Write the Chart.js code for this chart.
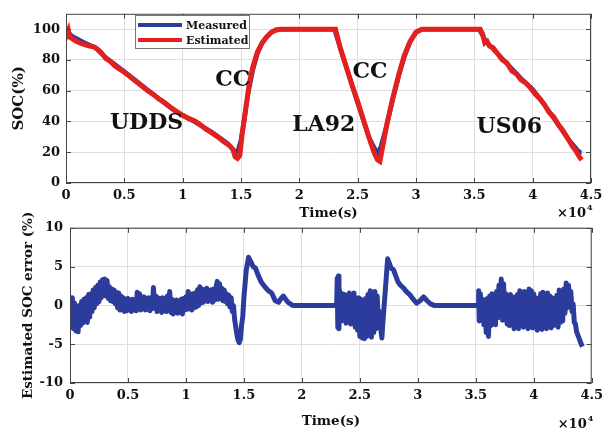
<!DOCTYPE html>
<html>
<head>
<meta charset="utf-8">
<script src="https://cdn.jsdelivr.net/npm/chart.js@4.4.1/dist/chart.umd.min.js"></script>
<style>
  html, body { margin: 0; padding: 0; background: #fff; }
  #wrap { position: relative; width: 608px; height: 432px; overflow: hidden; }
  .pane { position: absolute; left: 0; }
</style>
</head>
<body>
<div id="wrap">
  <canvas id="socChart" class="pane" style="top:0" width="608" height="221"></canvas>
  <canvas id="errChart" class="pane" style="top:213px" width="608" height="219"></canvas>
</div>
<script>
// time is in units of 1e4 s (axis shows x10^4)
const timeTicks = [0, 0.5, 1, 1.5, 2, 2.5, 3, 3.5, 4, 4.5];
const socTicks = [0, 20, 40, 60, 80, 100];
const errTicks = [-10, -5, 0, 5, 10];

// SOC (%) - measured
const socMeasured = [
  [0,100],[0.05,95.5],[0.15,91.5],[0.25,88],[0.35,81],[0.5,72.5],[0.65,63.5],[0.8,54.5],
  [0.95,46],[1.1,40],[1.25,33],[1.38,26],[1.44,21],[1.47,20],[1.50,28],[1.53,42],[1.56,58],
  [1.60,73],[1.64,84],[1.68,91],[1.72,95],[1.76,98],[1.80,99.5],[1.85,100],[2.30,100],
  [2.40,76],[2.50,52],[2.60,29],[2.67,19],[2.70,24],[2.75,38],[2.80,54],[2.85,69],[2.90,82],
  [2.95,92],[3.00,98],[3.05,100],[3.54,100],[3.60,92],[3.70,84],[3.80,76],[3.90,68],
  [4.00,61],[4.10,51],[4.20,40],[4.30,29],[4.40,20],[4.42,20]
];

// SOC (%) - estimated
const socEstimated = [
  [0,100],[0.01,97],[0.02,99],[0.03,95],[0.05,94],[0.08,92.5],[0.12,91],[0.16,90],[0.2,89],
  [0.24,88.5],[0.27,87],[0.3,85],[0.34,81],[0.38,79],[0.42,76],[0.46,74],[0.5,72],[0.55,69],
  [0.6,66],[0.65,63],[0.7,60],[0.75,57.5],[0.8,54.5],[0.85,52],[0.9,49],[0.95,46.5],[1.0,44],
  [1.05,42],[1.1,40.5],[1.15,38],[1.2,35],[1.25,32.5],[1.3,30],[1.35,27],[1.4,24.5],[1.43,22],
  [1.45,17],[1.47,16],[1.49,18],[1.51,32],[1.54,48],[1.57,64],[1.60,75],[1.64,85],[1.68,91],
  [1.72,95],[1.76,98],[1.80,99.5],[1.84,100],[2.31,100],[2.35,88],[2.40,76],[2.45,64],[2.50,53],
  [2.55,41],[2.60,29],[2.64,20],[2.67,15],[2.69,14],[2.71,22],[2.75,38],[2.80,55],[2.85,70],
  [2.90,83],[2.95,92],[3.00,98],[3.05,100],[3.55,100],[3.57,97],[3.59,91],[3.61,92],[3.63,89],
  [3.66,88],[3.70,84],[3.74,80],[3.78,78],[3.82,73],[3.86,71],[3.90,67],[3.94,65],[3.98,62],
  [4.02,58],[4.06,55],[4.10,51],[4.14,46],[4.18,43],[4.22,38],[4.26,34],[4.30,29],[4.34,24],
  [4.37,21],[4.40,17],[4.42,15]
];

// estimation error (%) - UDDS part, first charge
const errUdds = [
  [0.00,0.8],[0.01,-2.8],[0.02,1.0],[0.03,-3.0],[0.04,0.3],[0.05,-3.3],[0.06,-0.3],[0.07,-3.4],
  [0.08,0.0],[0.09,-2.6],[0.10,0.5],[0.11,-2.3],[0.12,0.8],[0.13,-2.0],[0.14,1.0],[0.15,-2.2],
  [0.16,1.4],[0.17,-1.5],[0.18,1.5],[0.19,-0.8],[0.20,2.0],[0.21,-0.3],[0.22,2.3],[0.23,0.2],
  [0.24,2.6],[0.25,0.5],[0.26,3.0],[0.27,1.0],[0.28,3.3],[0.29,1.3],[0.30,3.4],[0.31,1.2],
  [0.32,3.2],[0.33,0.9],[0.34,2.4],[0.35,0.6],[0.36,2.1],[0.37,0.5],[0.38,2.0],[0.39,0.2],
  [0.40,1.7],[0.41,-0.3],[0.42,1.6],[0.43,-0.6],[0.44,1.2],[0.45,-0.6],[0.46,1.0],[0.47,-0.8],
  [0.48,0.8],[0.49,-0.7],[0.50,0.9],[0.51,-0.6],[0.52,0.7],[0.53,-0.8],[0.54,0.8],[0.55,-0.5],
  [0.56,0.6],[0.57,-0.7],[0.58,1.7],[0.59,-0.2],[0.60,1.5],[0.61,-0.6],[0.62,1.0],[0.63,-0.4],
  [0.64,1.1],[0.65,-0.6],[0.66,0.9],[0.67,-0.5],[0.68,1.0],[0.69,-0.7],[0.70,0.8],[0.71,-0.4],
  [0.72,2.3],[0.73,-0.2],[0.74,1.2],[0.75,-0.8],[0.76,1.0],[0.77,-0.6],[0.78,0.9],[0.79,-0.9],
  [0.80,1.0],[0.81,-0.7],[0.82,0.8],[0.83,-0.8],[0.84,1.2],[0.85,-0.5],[0.86,1.8],[0.87,-0.9],
  [0.88,0.8],[0.89,-1.1],[0.90,0.6],[0.91,-0.9],[0.92,0.7],[0.93,-1.0],[0.94,0.5],[0.95,-0.8],
  [0.96,0.8],[0.97,-1.1],[0.98,0.9],[0.99,-0.6],[1.00,1.1],[1.01,-0.5],[1.02,1.8],[1.03,-0.4],
  [1.04,1.3],[1.05,-0.6],[1.06,1.5],[1.07,-0.3],[1.08,1.6],[1.09,-0.2],[1.10,2.0],[1.11,0.0],
  [1.12,2.4],[1.13,0.3],[1.14,2.1],[1.15,0.4],[1.16,2.0],[1.17,0.6],[1.18,2.2],[1.19,0.5],
  [1.20,1.9],[1.21,0.6],[1.22,2.0],[1.23,0.4],[1.24,2.1],[1.25,0.7],[1.26,2.3],[1.27,3.1],
  [1.28,0.8],[1.29,2.8],[1.30,0.9],[1.31,2.2],[1.32,0.6],[1.33,2.0],[1.34,0.5],[1.35,1.5],
  [1.36,0.2],[1.37,1.3],[1.38,-0.2],[1.39,1.0],[1.40,-0.8],[1.41,0.0],[1.42,-1.8],[1.43,-2.8],
  [1.44,-3.8],[1.45,-4.5],[1.46,-4.8],[1.47,-4.3],[1.48,-2.5],[1.49,-1.5],[1.50,1.0],[1.52,4.5],
  [1.54,6.2],[1.56,5.6],[1.58,5.0],[1.60,4.8],[1.62,4.0],[1.65,3.0],[1.68,2.4],[1.71,1.9],
  [1.74,1.6],[1.77,0.6],[1.80,0.4],[1.82,0.9],[1.84,1.2],[1.86,0.8],[1.88,0.4],[1.92,0.0],
  [2.30,0.0]
];

// LA92 part and second charge
const errLa92 = [
  [2.305,3.5],[2.31,-2.8],[2.315,3.8],[2.32,-3.0],[2.325,2.0],[2.33,-1.0],[2.335,1.2],[2.34,-2.0],
  [2.35,1.5],[2.36,-1.5],[2.37,1.4],[2.38,-2.3],[2.39,0.8],[2.40,-1.8],[2.41,1.6],[2.42,-2.4],
  [2.43,0.5],[2.44,-2.0],[2.45,1.6],[2.46,-2.8],[2.47,0.2],[2.48,-3.2],[2.49,1.0],[2.50,-4.0],
  [2.51,0.8],[2.52,-4.2],[2.53,0.6],[2.54,-4.3],[2.55,0.9],[2.56,-4.0],[2.57,1.4],[2.58,-3.8],
  [2.59,1.9],[2.60,-4.1],[2.61,0.5],[2.62,-3.5],[2.63,1.8],[2.64,-3.0],[2.65,1.2],[2.66,-2.6],
  [2.67,-0.8],[2.68,-3.0],[2.69,-4.2],[2.70,-2.0],[2.71,0.0],[2.73,4.0],[2.74,6.0],[2.75,5.6],
  [2.77,4.8],[2.79,4.6],[2.81,3.8],[2.83,3.0],[2.85,2.6],[2.88,2.2],[2.90,1.8],[2.93,1.4],
  [2.96,0.8],[2.99,0.3],[3.02,0.6],[3.05,1.1],[3.08,0.6],[3.11,0.2],[3.14,0.0],[3.52,0.0]
];

// US06 part
const errUs06 = [
  [3.525,1.9],[3.53,-2.0],[3.54,1.5],[3.55,-1.8],[3.56,0.8],[3.57,-2.5],[3.58,0.5],[3.59,-3.5],
  [3.60,0.9],[3.61,-4.0],[3.62,1.2],[3.63,-2.6],[3.64,1.5],[3.65,-2.2],[3.66,1.0],[3.67,-2.5],
  [3.68,1.8],[3.69,-1.6],[3.70,2.6],[3.71,-1.2],[3.72,3.4],[3.73,-1.9],[3.74,2.8],[3.75,-1.5],
  [3.76,1.5],[3.77,-2.4],[3.78,1.2],[3.79,-2.6],[3.80,1.4],[3.81,-2.0],[3.82,0.9],[3.83,-3.0],
  [3.84,1.1],[3.85,-2.6],[3.86,1.4],[3.87,-3.0],[3.88,1.9],[3.89,-2.2],[3.90,1.6],[3.91,-2.8],
  [3.92,1.8],[3.93,-2.5],[3.94,1.2],[3.95,-3.0],[3.96,2.1],[3.97,-2.4],[3.98,1.9],[3.99,-2.9],
  [4.00,1.5],[4.01,-2.6],[4.02,1.0],[4.03,-3.2],[4.04,0.8],[4.05,-2.8],[4.06,1.5],[4.07,-3.1],
  [4.08,1.7],[4.09,-2.5],[4.10,1.4],[4.11,-3.0],[4.12,1.6],[4.13,-2.7],[4.14,1.2],[4.15,-2.9],
  [4.16,1.0],[4.17,-2.6],[4.18,0.8],[4.19,-2.4],[4.20,1.3],[4.21,-2.8],[4.22,2.0],[4.23,-2.2],
  [4.24,1.8],[4.25,-2.0],[4.26,2.1],[4.27,-1.0],[4.28,2.9],[4.29,-0.3],[4.30,2.6],[4.31,0.5],
  [4.32,1.8],[4.33,-0.8],[4.34,0.2],[4.35,-2.2],[4.36,-2.4],[4.37,-3.4],[4.38,-3.8],[4.39,-4.2],
  [4.40,-4.6],[4.41,-5.0],[4.42,-5.3]
];

// cycle labels on the SOC plot, placed in data units
const cycleNames = ['UDDS', 'CC', 'LA92', 'CC', 'US06'];
const cycleAt = [[0.69, 38.5], [1.43, 67], [2.21, 37.5], [2.605, 72], [3.80, 36]];

const FONT = "'DejaVu Serif', 'Liberation Serif', serif";
const BLUE = '#2c3c9c';
const RED = '#e3201e';

Chart.defaults.font.family = FONT;
Chart.defaults.font.weight = 'bold';
Chart.defaults.font.size = 13;
Chart.defaults.color = '#111';
Chart.defaults.animation = false;

const toXY = arr => arr.map(p => ({ x: p[0], y: p[1] }));

// MATLAB style box with inward ticks + the x10^4 multiplier
const boxPlugin = {
  id: 'matBox',
  afterDraw(chart, args, opts) {
    const { ctx, chartArea: a, scales } = chart;
    ctx.save();
    ctx.strokeStyle = '#444';
    ctx.lineWidth = 1;
    ctx.strokeRect(a.left + 0.5, a.top + 0.5, a.right - a.left - 1, a.bottom - a.top - 1);
    ctx.beginPath();
    scales.x.ticks.forEach(t => {
      const px = Math.round(scales.x.getPixelForValue(t.value)) + 0.5;
      ctx.moveTo(px, a.bottom); ctx.lineTo(px, a.bottom - 5);
      ctx.moveTo(px, a.top); ctx.lineTo(px, a.top + 5);
    });
    scales.y.ticks.forEach(t => {
      const py = Math.round(scales.y.getPixelForValue(t.value)) + 0.5;
      ctx.moveTo(a.left, py); ctx.lineTo(a.left + 5, py);
      ctx.moveTo(a.right, py); ctx.lineTo(a.right - 5, py);
    });
    ctx.stroke();
    // exponent label
    ctx.fillStyle = '#111';
    ctx.textBaseline = 'middle';
    ctx.textAlign = 'right';
    ctx.font = 'bold 13px ' + FONT;
    const ex = a.right - 5, ey = a.bottom + opts.expDy;
    ctx.fillText('\u00d710', ex, ey);
    ctx.textAlign = 'left';
    ctx.font = 'bold 8px ' + FONT;
    ctx.fillText('4', ex + 1, ey - 6);
    ctx.restore();
  }
};

// cycle names + legend for the SOC plot
const socDecor = {
  id: 'socDecor',
  afterDraw(chart) {
    const { ctx, scales } = chart;
    ctx.save();
    ctx.fillStyle = '#111';
    ctx.textAlign = 'center';
    ctx.textBaseline = 'middle';
    ctx.font = 'bold 22px ' + FONT;
    cycleNames.forEach((n, i) => {
      ctx.fillText(n, scales.x.getPixelForValue(cycleAt[i][0]), scales.y.getPixelForValue(cycleAt[i][1]));
    });
    // legend box
    const lx = 135, ly = 15, lw = 114, lh = 33;
    ctx.fillStyle = '#fff';
    ctx.fillRect(lx, ly, lw, lh);
    ctx.strokeStyle = '#777';
    ctx.lineWidth = 1;
    ctx.strokeRect(lx + 0.5, ly + 0.5, lw, lh);
    ctx.font = 'bold 11px ' + FONT;
    ctx.textAlign = 'left';
    chart.data.datasets.forEach((ds, i) => {
      const yy = ly + 10 + i * 15;
      ctx.strokeStyle = ds.borderColor;
      ctx.lineWidth = 4;
      ctx.beginPath();
      ctx.moveTo(lx + 3, yy); ctx.lineTo(lx + 47, yy);
      ctx.stroke();
      ctx.fillStyle = '#111';
      ctx.fillText(ds.label, lx + 51, yy + 1);
    });
    ctx.restore();
  }
};

function timeAxis(padBottom) {
  return {
    type: 'linear', min: 0, max: 4.5,
    afterBuildTicks: s => { s.ticks = timeTicks.map(v => ({ value: v })); },
    ticks: { padding: 5, maxRotation: 0, callback: v => String(v) },
    grid: { color: '#dedede', drawTicks: false },
    border: { display: false },
    title: { display: true, text: 'Time(s)', font: { size: 13.5, weight: 'bold' }, padding: { top: 0, bottom: padBottom } }
  };
}

new Chart(document.getElementById('socChart'), {
  type: 'line',
  data: {
    datasets: [
      { label: 'Measured', data: toXY(socMeasured), borderColor: BLUE, borderWidth: 4.5, pointRadius: 0, order: 1 },
      { label: 'Estimated', data: toXY(socEstimated), borderColor: RED, borderWidth: 5, pointRadius: 0, order: 0 }
    ]
  },
  options: {
    responsive: false,
    layout: { padding: { top: 9, right: 17, left: 0, bottom: 0 } },
    plugins: { legend: { display: false }, tooltip: { enabled: false }, matBox: { expDy: 31 } },
    scales: {
      x: Object.assign(timeAxis(-1), { afterFit: s => { s.height = 38; } }),
      y: {
        min: 0, max: 110,
        afterBuildTicks: s => { s.ticks = socTicks.map(v => ({ value: v })); },
        afterFit: s => { s.width = 66; },
        ticks: { padding: 6 },
        grid: { color: '#dedede', drawTicks: false },
        border: { display: false },
        title: { display: true, text: 'SOC(%)', font: { size: 15, weight: 'bold' }, padding: { top: 10, bottom: 0 } }
      }
    }
  },
  plugins: [boxPlugin, socDecor]
});

new Chart(document.getElementById('errChart'), {
  type: 'line',
  data: {
    datasets: [
      { label: 'Error', data: toXY(errUdds.concat(errLa92, errUs06)), borderColor: BLUE, borderWidth: 5, pointRadius: 0, borderJoinStyle: 'round' }
    ]
  },
  options: {
    responsive: false,
    layout: { padding: { top: 14, right: 12, left: 0, bottom: 0 } },
    plugins: { legend: { display: false }, tooltip: { enabled: false }, matBox: { expDy: 42 } },
    scales: {
      x: Object.assign(timeAxis(2), { afterFit: s => { s.height = 49; } }),
      y: {
        min: -10, max: 10,
        afterBuildTicks: s => { s.ticks = errTicks.map(v => ({ value: v })); },
        afterFit: s => { s.width = 70; },
        ticks: { padding: 7 },
        grid: { color: '#dedede', drawTicks: false },
        border: { display: false },
        title: { display: true, text: 'Estimated SOC error (%)', font: { size: 13.5, weight: 'bold' }, padding: { top: 20, bottom: 0 } }
      }
    }
  },
  plugins: [boxPlugin]
});
</script>
</body>
</html>
